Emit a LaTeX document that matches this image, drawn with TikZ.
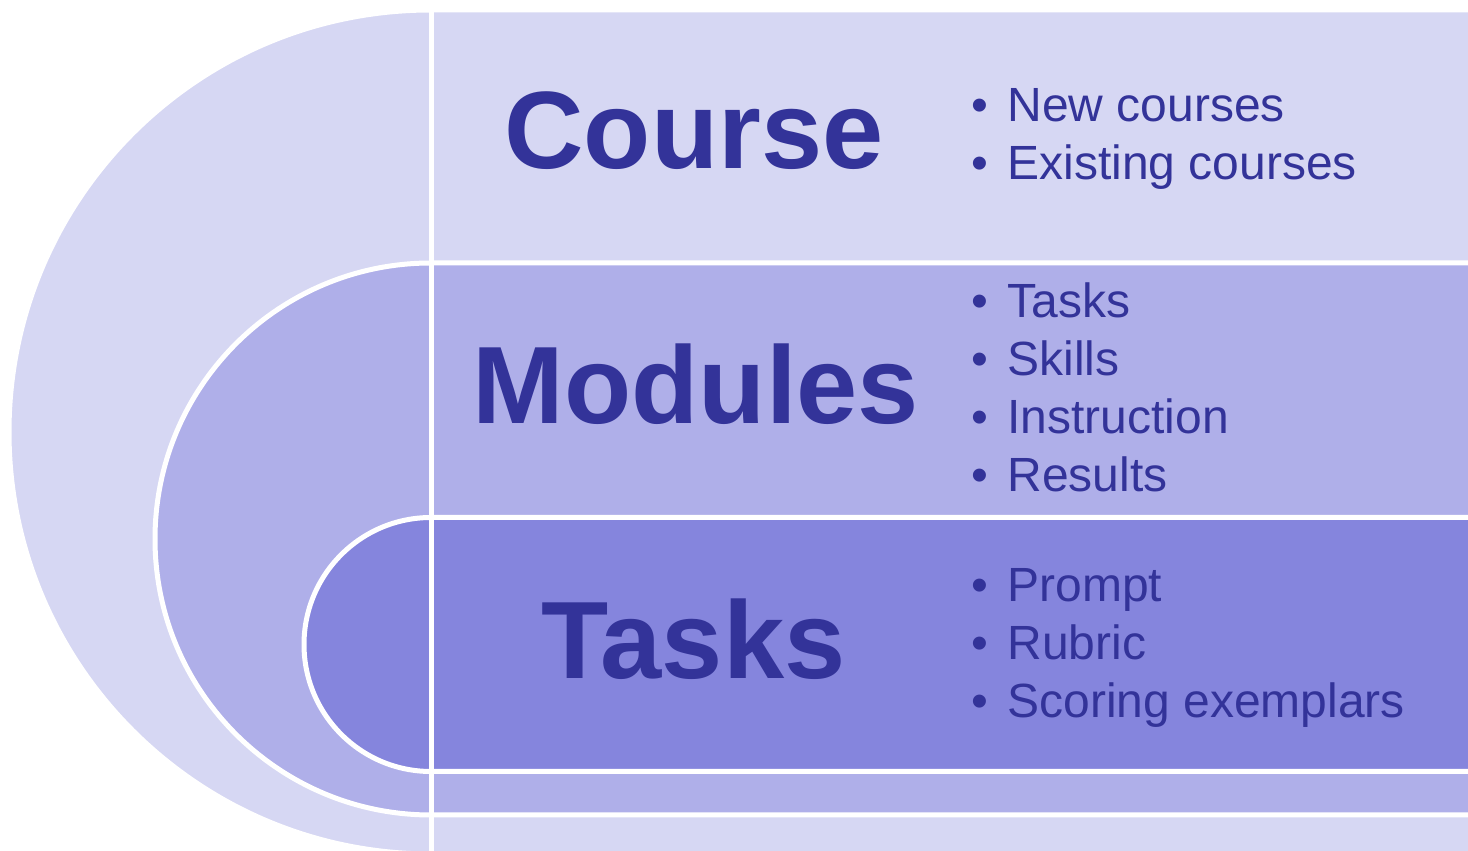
\documentclass[tikz,border=0pt]{standalone}
\usepackage{fontspec}
\setmainfont{Liberation Sans}
\usepackage{xcolor}
\definecolor{lvlA}{HTML}{D6D7F3}
\definecolor{lvlB}{HTML}{AFAFE9}
\definecolor{lvlC}{HTML}{8585DD}
\definecolor{ink}{HTML}{333399}

\begin{document}
\begin{tikzpicture}[x = 0.5pt, y = 0.5pt,
  band/.style = {draw = white, line width = 2.5pt},
  ttl/.style = {text = ink, font = \fontsize{55}{66}\selectfont\bfseries, anchor = base, inner sep = 0pt},
  itm/.style = {text = ink, font = \fontsize{24}{29}\selectfont, anchor = base west, inner sep = 0pt},
  bul/.style = {text = ink, font = \fontsize{24}{29}\selectfont, anchor = base, inner sep = 0pt}]
\useasboundingbox (0,0) rectangle (1468,851);
\clip (0,0) rectangle (1468,851);
\fill[white] (0,0) rectangle (1468,851);
% nested bands
\draw[band, fill = lvlA] (1480,841) -- (431,841) arc[start angle = 90, end angle = 270, radius = 422] -- (1480,-3) -- cycle;
\draw[band, fill = lvlB] (1480,588) -- (431,588) arc[start angle = 90, end angle = 270, radius = 276] -- (1480,36) -- cycle;
\draw[band, fill = lvlC] (1480,333.5) -- (431,333.5) arc[start angle = 90, end angle = 270, radius = 127] -- (1480,79.5) -- cycle;
\coordinate (top) at (431,851);
\coordinate (bot) at (431,0);
\draw[white, line width = 2.5pt] (top) -- (bot);
% titles
\node[ttl] (course) at (694,682) {Course};
\node[ttl] (modules) at (696,427) {Modules};
\node[ttl] (tasks) at (693.5,172) {Tasks};
% bullet lists
\foreach \t [count = \i] in {New courses, Existing courses}{
\node[bul] (cb\i) at (980, 787-58*\i) {\textbullet};
\node[itm] (ci\i) at (1007, 787-58*\i) {\t};
}
\foreach \t [count = \i] in {Tasks, Skills, Instruction, Results}{
\node[bul] (mb\i) at (980, 591-58*\i) {\textbullet};
\node[itm] (mi\i) at (1007, 591-58*\i) {\t};
}
\foreach \t [count = \i] in {Prompt, Rubric, Scoring exemplars}{
\node[bul] (tb\i) at (980, 307-58*\i) {\textbullet};
\node[itm] (ti\i) at (1007, 307-58*\i) {\t};
}
\end{tikzpicture}
\end{document}
